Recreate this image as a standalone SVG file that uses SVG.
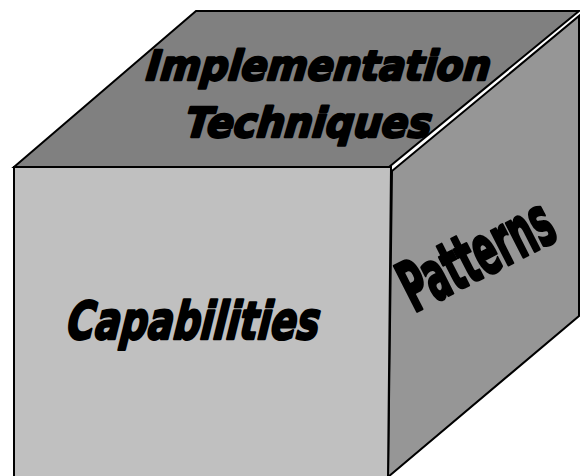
<svg xmlns="http://www.w3.org/2000/svg" width="580" height="476" viewBox="0 0 580 476">
<style>
.face{stroke:#000;stroke-width:2;stroke-linejoin:miter}
.lbl{font-family:"DejaVu Sans","Liberation Sans",sans-serif;font-weight:bold;font-style:italic;fill:#000;stroke:#000;stroke-width:2.6;stroke-linejoin:round}
.cond{font-family:"DejaVu Sans Condensed","DejaVu Sans",sans-serif;font-weight:bold;fill:#000;stroke:#000;stroke-width:2.4;stroke-linejoin:round}
</style>
<rect width="580" height="476" fill="#fff"/>
<g id="top-face">
<polygon class="face" fill="#808080" points="14,167 196,11 579,11 389,167"/>
<text class="lbl" x="318" y="80" font-size="41" text-anchor="middle" textLength="344" lengthAdjust="spacingAndGlyphs" transform="skewX(-6) translate(8,0)">Implementation</text>
<text class="lbl" x="308" y="137" font-size="41" text-anchor="middle" textLength="246" lengthAdjust="spacingAndGlyphs" transform="skewX(-6) translate(14,0)">Techniques</text>
</g>
<g id="right-face">
<polygon class="face" fill="#969696" points="392,171 579,16 579,316 388,477"/>
<text class="cond" transform="translate(414,313) rotate(-27) scale(1,1.2)" x="0" y="0" font-size="58" textLength="164" lengthAdjust="spacingAndGlyphs">Patterns</text>
</g>
<g id="front-face">
<polygon class="face" fill="#C0C0C0" points="14,167 391,167 388,478 14,478"/>
<text class="lbl" x="193" y="339" font-size="52" text-anchor="middle" textLength="252" lengthAdjust="spacingAndGlyphs" transform="skewX(-6) translate(35,0)">Capabilities</text>
</g>
</svg>
